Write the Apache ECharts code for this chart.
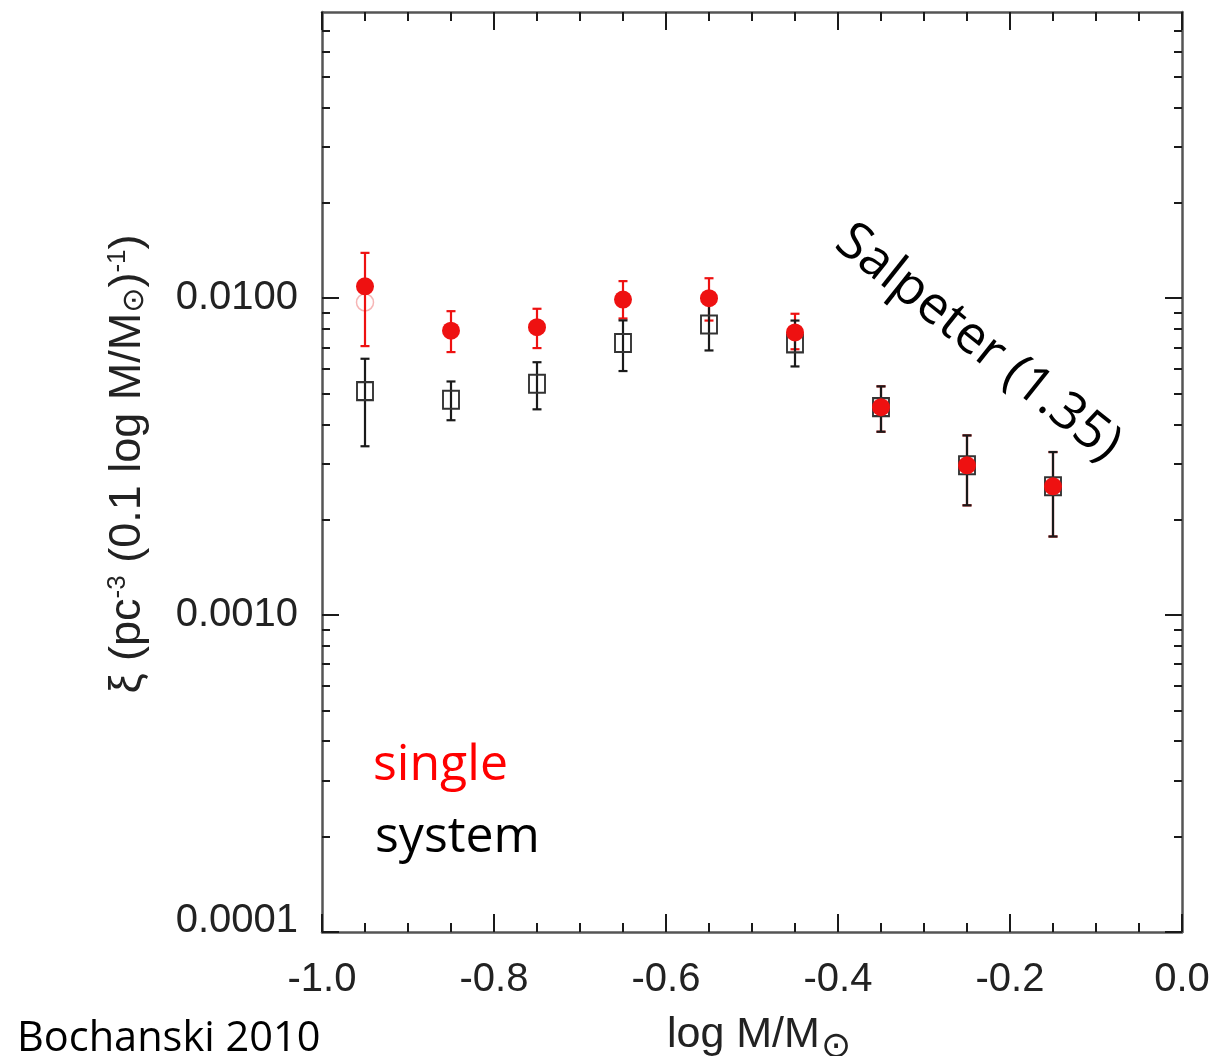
<!DOCTYPE html>
<html>
<head>
<meta charset="utf-8">
<script src="https://cdn.jsdelivr.net/npm/echarts@6/dist/echarts.min.js"></script>
<style>html,body{margin:0;padding:0;background:#fff}#c{width:1224px;height:1056px}</style>
</head>
<body>
<div id="c"></div>
<script>
// ---- data ----
const xValues   = [-0.95, -0.85, -0.75, -0.65, -0.55, -0.45, -0.35, -0.25, -0.15];
const singleVal = [0.0109, 0.0079, 0.0081, 0.0099, 0.0100, 0.0078, 0.00453, 0.00297, 0.00255];
const singleLo  = [0.00706, 0.00676, 0.00696, 0.00863, 0.00850, 0.00690, 0.00379, 0.00222, 0.00177];
const singleHi  = [0.0139, 0.0091, 0.00926, 0.01132, 0.01156, 0.00893, 0.00527, 0.00369, 0.00327];
const systemVal = [0.00509, 0.00478, 0.00537, 0.00722, 0.00826, 0.00720, 0.00453, 0.00297, 0.00255];
const systemLo  = [0.00341, 0.00412, 0.00446, 0.00589, 0.00684, 0.00609, 0.00379, 0.00222, 0.00177];
const systemHi  = [0.00644, 0.00546, 0.00628, 0.00851, 0.00971, 0.00850, 0.00527, 0.00369, 0.00327];
const faintX    = [-0.95];
const faintVal  = [0.0097];
const yMajorTicks = [0.0001, 0.001, 0.01];
const yTickLabels = ['0.0001', '0.0010', '0.0100'];
const yMinorTicks = [0.0002,0.0003,0.0004,0.0005,0.0006,0.0007,0.0008,0.0009,
                     0.002,0.003,0.004,0.005,0.006,0.007,0.008,0.009,
                     0.02,0.03,0.04,0.05,0.06,0.07];
const xTickLabels = ['-1.0','-0.8','-0.6','-0.4','-0.2','0.0'];

const RED = '#ee1111';
const BLACK = '#1a1a1a';
const FRAME = '#555555';
const AX_FONT = 'Liberation Sans, Arial, sans-serif';

const chart = echarts.init(document.getElementById('c'), null, {renderer: 'canvas'});

function errBar(color, capHalf) {
  return function (params, api) {
    const x = api.value(0), lo = api.value(1), hi = api.value(2);
    const pLo = api.coord([x, lo]);
    const pHi = api.coord([x, hi]);
    const st = {stroke: color, lineWidth: 2.2, fill: null};
    return {
      type: 'group',
      children: [
        {type: 'line', shape: {x1: pLo[0], y1: pLo[1], x2: pHi[0], y2: pHi[1]}, style: st},
        {type: 'line', shape: {x1: pHi[0] - capHalf, y1: pHi[1], x2: pHi[0] + capHalf, y2: pHi[1]}, style: st},
        {type: 'line', shape: {x1: pLo[0] - capHalf, y1: pLo[1], x2: pLo[0] + capHalf, y2: pLo[1]}, style: st}
      ]
    };
  };
}

const gridRect = {left: 322, right: 42, top: 12, bottom: 124, containLabel: false, outerBoundsMode: 'none'};

const xAxisBase = {
  type: 'value', min: -1, max: 0, interval: 0.2,
  axisLine: {show: true, onZero: false, lineStyle: {color: FRAME, width: 2.5}},
  axisTick: {show: true, inside: true, length: 18, lineStyle: {color: BLACK, width: 2}},
  minorTick: {show: true, splitNumber: 4, length: 9, lineStyle: {color: BLACK, width: 2}},
  splitLine: {show: false}, minorSplitLine: {show: false}
};
const yAxisBase = {
  type: 'log', logBase: 10, min: 0.0001, max: 0.08,
  splitLine: {show: false}, minorSplitLine: {show: false}, minorTick: {show: false}
};
function yMajor(pos, withLabel) {
  return Object.assign({}, yAxisBase, {
    gridIndex: 0, position: pos,
    axisLine: {show: true, onZero: false, lineStyle: {color: FRAME, width: 2.5}},
    axisTick: {show: true, inside: true, length: 17, customValues: yMajorTicks, lineStyle: {color: BLACK, width: 2}},
    axisLabel: withLabel ? {
      show: true, customValues: yMajorTicks, margin: 24, fontFamily: AX_FONT, fontSize: 40, color: '#222',
      formatter: function (v) {
        const i = Math.round(Math.log10(v)) + 4;
        const s = yTickLabels[i];
        return i === 0 ? '{lo|' + s + '}' : s;
      },
      rich: {lo: {fontFamily: AX_FONT, fontSize: 40, color: '#222', padding: [0, 0, 22, 0]}}
    } : {show: false}
  });
}
function yMinor(pos) {
  return Object.assign({}, yAxisBase, {
    gridIndex: 1, position: pos,
    axisLine: {show: false, onZero: false},
    axisTick: {show: true, inside: true, length: 8, customValues: yMinorTicks, lineStyle: {color: BLACK, width: 2}},
    axisLabel: {show: false}
  });
}

const yLeft = yMajor('left', true);
Object.assign(yLeft, {
  name: '{a|ξ (pc}{sup|-3}{a| (0.1 log M/M}{sub|⊙}{a|)}{sup|-1}{a|)}',
  nameLocation: 'middle', nameGap: 172, nameRotate: 90,
  nameTextStyle: {fontFamily: AX_FONT, fontSize: 45, color: '#222', padding: [0, 0, 0, 16],
    rich: {
      a: {fontFamily: AX_FONT, fontSize: 45, color: '#222'},
      sup: {fontFamily: AX_FONT, fontSize: 26, color: '#222', verticalAlign: 'top'},
      sub: {fontFamily: 'DejaVu Sans', fontSize: 30, color: '#222', verticalAlign: 'bottom'}
    }}
});

const option = {
  animation: false,
  backgroundColor: '#ffffff',
  grid: [Object.assign({}, gridRect), Object.assign({}, gridRect)],
  xAxis: [
    Object.assign({}, xAxisBase, {
      gridIndex: 0, position: 'bottom',
      axisLabel: {show: true, margin: 28, fontFamily: AX_FONT, fontSize: 40, color: '#222',
        formatter: function (v) { return xTickLabels[Math.round((v + 1) / 0.2)]; }},
      name: '{a|log M/M}{sub|⊙}',
      nameLocation: 'middle', nameGap: 72,
      nameTextStyle: {fontFamily: AX_FONT, fontSize: 43, color: '#222', padding: [0, 0, 0, 14],
        rich: {
          a: {fontFamily: AX_FONT, fontSize: 43, color: '#222'},
          sub: {fontFamily: 'DejaVu Sans', fontSize: 36, color: '#222', verticalAlign: 'top', padding: [26, 0, 0, 1]}
        }}
    }),
    Object.assign({}, xAxisBase, {gridIndex: 1, position: 'top', axisLabel: {show: false}})
  ],
  yAxis: [
    yLeft,
    yMajor('right', false),
    yMinor('left'),
    yMinor('right')
  ],
  series: [
    {
      name: 'single (faint)', type: 'scatter', xAxisIndex: 0, yAxisIndex: 0, z: 1,
      symbol: 'circle', symbolSize: 17,
      itemStyle: {color: 'rgba(255,255,255,0)', borderColor: 'rgba(235,90,90,0.45)', borderWidth: 1.5, opacity: 1},
      data: faintX.map((x, i) => [x, faintVal[i]])
    },
    {
      name: 'single err', type: 'custom', xAxisIndex: 0, yAxisIndex: 0, z: 2,
      renderItem: errBar(RED, 4.5),
      encode: {x: 0, y: [1, 2]},
      data: xValues.map((x, i) => [x, singleLo[i], singleHi[i]])
    },
    {
      name: 'system err', type: 'custom', xAxisIndex: 0, yAxisIndex: 0, z: 3,
      renderItem: errBar(BLACK, 4.5),
      encode: {x: 0, y: [1, 2]},
      data: xValues.map((x, i) => [x, systemLo[i], systemHi[i]])
    },
    {
      name: 'system', type: 'scatter', xAxisIndex: 0, yAxisIndex: 0, z: 4,
      symbol: 'rect', symbolSize: [16, 18],
      itemStyle: {color: 'rgba(255,255,255,0)', borderColor: '#333', borderWidth: 2, opacity: 1},
      data: xValues.map((x, i) => [x, systemVal[i]])
    },
    {
      name: 'single', type: 'scatter', xAxisIndex: 0, yAxisIndex: 0, z: 5,
      symbol: 'circle', symbolSize: 18,
      itemStyle: {color: RED, opacity: 1},
      data: xValues.map((x, i) => [x, singleVal[i]])
    }
  ],
  graphic: [
    {type: 'text', x: 373, y: 766, z: 10, style: {text: 'single', fill: '#ff0000', font: '50px "Open Sans"', align: 'left', verticalAlign: 'middle'}},
    {type: 'text', x: 375, y: 838, z: 10, style: {text: 'system', fill: '#000', font: '50px "Open Sans"', align: 'left', verticalAlign: 'middle'}},
    {type: 'text', x: 17, y: 1039, z: 10, style: {text: 'Bochanski 2010', fill: '#000', font: '41.5px "Open Sans"', align: 'left', verticalAlign: 'middle'}},
    {type: 'text', x: 978, y: 343, z: 10, rotation: -38.5 * Math.PI / 180,
      style: {text: 'Salpeter (1.35)', fill: '#000', font: '52px "Open Sans"', align: 'center', verticalAlign: 'middle'}}
  ]
};
chart.setOption(option);
</script>
</body>
</html>
